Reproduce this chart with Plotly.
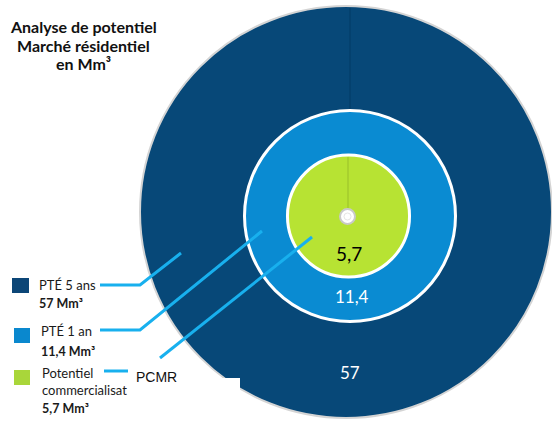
import plotly.graph_objects as go

# ---- data ----
series_names = ["PTÉ 5 ans", "PTÉ 1 an", "Potentiel commercialisation"]
legend_line1 = ["PTÉ 5 ans", "PTÉ 1 an", "Potentiel<br>commercialisat"]
values = [57, 11.4, 5.7]
unit = "Mm³"
title_lines = ["Analyse de potentiel", "Marché résidentiel", "en Mm³"]
callout = "PCMR"

colors = ["#074878", "#0A8BD2", "#B7E333"]
legend_colors = ["#0C4677", "#0A88CE", "#A9D63A"]
label_colors = ["white", "white", "black"]

W, H = 552, 427


def px(x):
    return x / W


def py(y):
    return 1 - y / H


def fmt(v):
    return f"{v:g}".replace(".", ",")


# geometry of each ring (center x, center y in px from top, radius)
geo = [(346, 212, 206), (350, 216, 105.5), (348.5, 216, 61)]
line_styles = [("#d4d4d4", 2), ("white", 3), ("white", 3)]

fig = go.Figure()
for i, (name, v) in enumerate(zip(series_names, values)):
    cx, cy, r = geo[i]
    fig.add_trace(go.Pie(
        labels=[name], values=[v], sort=False, textinfo="none",
        hoverinfo="label+value", showlegend=False,
        marker=dict(colors=[colors[i]], line=dict(color=line_styles[i][0], width=line_styles[i][1])),
        domain=dict(x=[max(0, px(cx - r)), min(1, px(cx + r))],
                    y=[max(0, py(cy + r)), min(1, py(cy - r))]),
    ))

shapes = []
# subtle seam lines (top of each disc to the centre)
shapes.append(dict(type="line", xref="paper", yref="paper", x0=px(350), x1=px(350),
                   y0=py(8), y1=py(109), line=dict(color="#053f6b", width=1.5), layer="above"))
shapes.append(dict(type="line", xref="paper", yref="paper", x0=px(348), x1=px(348),
                   y0=py(157), y1=py(208), line=dict(color="#a3cb2e", width=1.5), layer="above"))
# centre hub
shapes.append(dict(type="circle", xref="paper", yref="paper",
                   x0=px(340), x1=px(355), y0=py(224), y1=py(209),
                   fillcolor="white", line=dict(color="#c9c9c9", width=2), layer="above"))
shapes.append(dict(type="circle", xref="paper", yref="paper",
                   x0=px(344), x1=px(351), y0=py(220), y1=py(213),
                   fillcolor="white", line=dict(color="#e6e6e6", width=1), layer="above"))

lc = "#18B0EE"
lw = 3
leader_paths = [
    [(100, 285), (140, 285), (181, 253)],
    [(100, 330), (140, 330), (262, 231)],
    [(160, 358), (312, 237)],
    [(104, 371), (128, 371)],
]
for pts in leader_paths:
    path = "M " + " L ".join(f"{px(x)},{py(y)}" for x, y in pts)
    shapes.append(dict(type="path", xref="paper", yref="paper", path=path,
                       line=dict(color=lc, width=lw), layer="above"))

# white mask rectangle
shapes.append(dict(type="rect", xref="paper", yref="paper",
                   x0=px(132), x1=px(240), y0=py(427), y1=py(378),
                   fillcolor="white", line=dict(width=0), layer="above"))

# legend squares
sq = [(12, 278, 29, 293), (14, 328, 30, 343), (14, 370, 30, 385)]
for (x0, y0, x1, y1), c in zip(sq, legend_colors):
    shapes.append(dict(type="rect", xref="paper", yref="paper",
                       x0=px(x0), x1=px(x1), y0=py(y1), y1=py(y0),
                       fillcolor=c, line=dict(width=0), layer="above"))

annotations = []
font_main = "Lato, Carlito, Calibri, sans-serif"
# title
for j, t in enumerate(title_lines):
    annotations.append(dict(x=px(83), y=py(27 + 18.5 * j), xref="paper", yref="paper",
                            text=f"<b>{t}</b>", showarrow=False, xanchor="center", yanchor="middle",
                            font=dict(family=font_main, size=16, color="#111111")))

# legend texts
leg_pos = [(37, 285, 303), (39, 331, 351), (40, 381, 408)]
for i, (x, y1, y2) in enumerate(leg_pos):
    annotations.append(dict(x=px(x), y=py(y1), xref="paper", yref="paper",
                            text=legend_line1[i], showarrow=False, xanchor="left", yanchor="middle",
                            align="left", font=dict(family=font_main, size=13, color="#1a1a1a")))
    annotations.append(dict(x=px(x), y=py(y2), xref="paper", yref="paper",
                            text=f"<b>{fmt(values[i])} {unit}</b>", showarrow=False, xanchor="left",
                            yanchor="middle", font=dict(family=font_main, size=12.5, color="#1a1a1a")))

# value labels in the discs
lab_pos = [(350, 372), (352, 296), (349, 253)]
lab_sizes = [17, 17, 19]
for i, (x, y) in enumerate(lab_pos):
    annotations.append(dict(x=px(x), y=py(y), xref="paper", yref="paper",
                            text=fmt(values[i]), showarrow=False, xanchor="center", yanchor="middle",
                            font=dict(family=font_main, size=lab_sizes[i], color=label_colors[i])))

annotations.append(dict(x=px(134), y=py(377), xref="paper", yref="paper", text=callout,
                        showarrow=False, xanchor="left", yanchor="middle",
                        font=dict(family="Liberation Sans, Arial, sans-serif", size=14, color="#111111")))

fig.update_layout(
    width=W, height=H, margin=dict(l=0, r=0, t=0, b=0),
    paper_bgcolor="white", plot_bgcolor="white",
    shapes=shapes, annotations=annotations,
)

fig.write_html("out.html", config={"displayModeBar": False},
               post_script="document.body.style.margin='0';document.body.style.overflow='hidden';")
